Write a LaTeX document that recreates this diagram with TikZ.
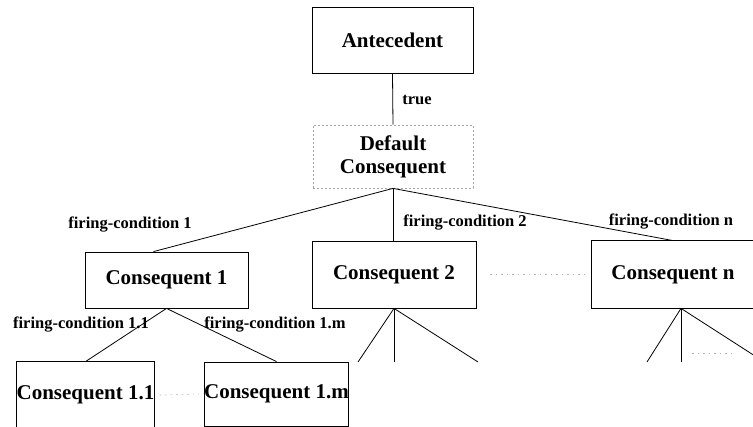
\documentclass[tikz,border=0pt]{standalone}
\usepackage{fontspec}
\setmainfont{Liberation Serif}
\usetikzlibrary{calc}
\begin{document}
\begin{tikzpicture}[x=1pt,y=-1pt,
  box/.style={draw,line width=0.8pt,rectangle,inner sep=0pt,font=\fontsize{21}{23}\selectfont\bfseries},
  obox/.style={box,draw=none},
  dbox/.style={box,draw=gray!70,dashed,dash pattern=on 2pt off 2pt,align=center},
  lab/.style={font=\fontsize{16.5}{18}\selectfont\bfseries,inner sep=0pt},
  conn/.style={line width=0.8pt},
  dots/.style={draw=gray!60,line width=0.6pt,dash pattern=on 1.5pt off 4pt}]
\useasboundingbox (0,0) rectangle (753,427);
\node[box,minimum width=161pt,minimum height=66pt] (ant) at (392.5,40) {Antecedent};
\node[dbox,minimum width=160pt,minimum height=63pt] (def) at (393,156.5) {Default\\Consequent};
\node[box,minimum width=163pt,minimum height=56pt] (c1) at (166.5,280) {Consequent 1};
\node[box,minimum width=164pt,minimum height=67pt] (c2) at (394,274.5) {Consequent 2};
\node[obox,minimum width=162pt,minimum height=67pt] (cn) at (673,274.5) {Consequent n};
\draw[conn] (cn.north east) -- (cn.north west) -- (cn.south west) -- (cn.south east);
\node[obox,minimum width=135pt,minimum height=66pt] (c11) at (85.5,395) {Consequent 1.1};
\draw[conn] (c11.south west) -- (c11.north west) -- (c11.north east) -- (c11.south east);
\node[box,minimum width=143pt,minimum height=64pt] (c1m) at (276.5,394) {Consequent 1.m};

\draw[conn] (ant.south) -- (def.south |- def.north);
\coordinate (c1top) at ([xshift=-13pt]c1.north);
\draw[conn] (def.south) -- (c1top);
\draw[conn] (def.south) -- (def.south |- c2.north);
\draw[conn] (def.south) -- (cn.north);
\draw[conn] (c1.south) -- (c11.north);
\draw[conn] (c1.south) -- (c1m.north);

\coordinate (a1) at (358,362);
\coordinate (a2) at (394,362);
\coordinate (a3) at (478,362);
\draw[conn] (c2.south) -- (a1);
\draw[conn] (c2.south) -- (a2);
\draw[conn] (c2.south) -- (a3);
\coordinate (b1) at (647,362);
\coordinate (b2) at (681,362);
\coordinate (b3) at (755,356);
\draw[conn] ([xshift=8pt]cn.south) -- (b1);
\draw[conn] ([xshift=8pt]cn.south) -- (b2);
\draw[conn] ([xshift=8pt]cn.south) -- (b3);

\coordinate (d1) at (692,353);
\coordinate (d2) at (733,353);
\draw[dots] (d1) -- (d2);
\draw[dots] ([xshift=14pt]c2.east) -- ([xshift=-5pt]cn.west);
\draw[dots] ([xshift=5pt]c11.east) -- ([xshift=-5pt]c1m.west);

\node[lab] (t) at (417,100) {true};
\node[lab] (l1) at (130,225) {firing-condition 1};
\node[lab] (l2) at (465,223) {firing-condition 2};
\node[lab] (ln) at (671,222) {firing-condition n};
\node[lab] (l11) at (81,325) {firing-condition 1.1};
\node[lab] (l1m) at (275,325) {firing-condition 1.m};
\end{tikzpicture}
\end{document}
